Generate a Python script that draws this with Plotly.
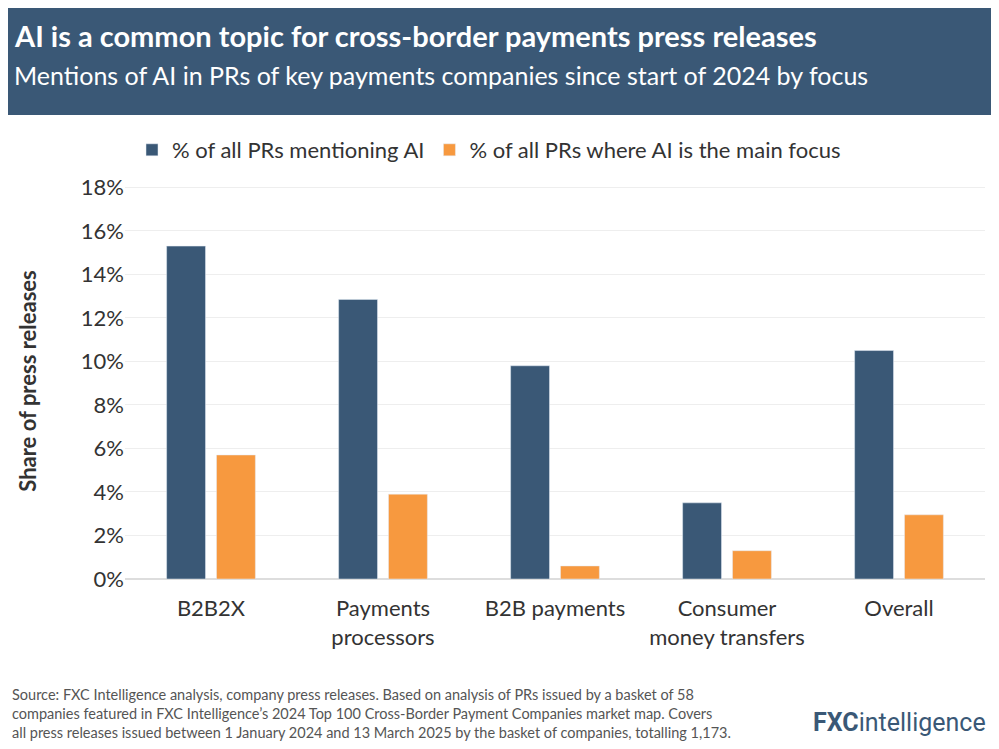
import plotly.graph_objects as go

categories = ['B2B2X', 'Payments<br>processors', 'B2B payments', 'Consumer<br>money transfers', 'Overall']
mentioning_ai = [15.3, 12.85, 9.8, 3.5, 10.5]
main_focus = [5.7, 3.9, 0.6, 1.3, 2.95]
y_ticks = [0, 2, 4, 6, 8, 10, 12, 14, 16, 18]

BLUE = '#3a5876'
ORANGE = '#f7993f'
FONT = 'Lato'

# the page puts the figure 8px in from the top-left corner
OFF = 8
L, R, T, B = 125 - OFF, 22, 175, 749 - 579 + OFF
W = 999 - L - R
H = 749 - T - B


def px(x, y):
    # reference pixel -> paper coordinates
    return (x - OFF - L) / W, (749 - B - (y - OFF)) / H


fig = go.Figure()
fig.add_bar(x=categories, y=mentioning_ai, name='% of all PRs mentioning AI', marker_color=BLUE)
fig.add_bar(x=categories, y=main_focus, name='% of all PRs where AI is the main focus', marker_color=ORANGE)

lx, ly = px(132, 150)
fig.update_layout(
    width=999, height=749,
    paper_bgcolor='white', plot_bgcolor='white',
    font=dict(family=FONT, color='#333333'),
    margin=dict(l=L, r=R, t=T, b=B),
    barmode='group', bargap=0.42, bargroupgap=0.22,
    legend=dict(orientation='h', x=lx, y=ly, xanchor='left', yanchor='middle',
                font=dict(size=22, color='#333333'), itemwidth=30, traceorder='normal'),
)
bx0, by0 = px(-20, 115)
fig.add_shape(type='rect', xref='paper', yref='paper', x0=bx0, x1=2,
              y0=by0, y1=2, fillcolor=BLUE, line_width=0, layer='below')

fig.update_xaxes(tickfont=dict(size=22, color='#333333'), showline=False, ticks='',
                 ticklabelstandoff=14)
fig.update_yaxes(range=[0, 18.2], tickvals=y_ticks, ticktext=[f'{v}%' for v in y_ticks],
                 tickfont=dict(size=22, color='#333333'), showgrid=True, gridcolor='#eeeeee',
                 zeroline=True, zerolinecolor='#dddddd',
                 title=dict(text='<b>Share of press releases</b>', font=dict(size=22, color='#333333'),
                            standoff=38))

tx, ty = px(12, 35)
fig.add_annotation(text='<b>AI is a common topic for cross-border payments press releases</b>',
                   xref='paper', yref='paper', x=tx, y=ty, xanchor='left', yanchor='middle',
                   showarrow=False, font=dict(size=29, color='white', family=FONT))
sx, sy = px(12, 75)
fig.add_annotation(text='Mentions of AI in PRs of key payments companies since start of 2024 by focus',
                   xref='paper', yref='paper', x=sx, y=sy, xanchor='left', yanchor='middle',
                   showarrow=False, font=dict(size=25, color='white', family=FONT))
fx, fy = px(10, 713)
fig.add_annotation(text='Source: FXC Intelligence analysis, company press releases. Based on analysis of PRs issued by a basket of 58<br>'
                        'companies featured in FXC Intelligence\u2019s 2024 Top 100 Cross-Border Payment Companies market map. Covers<br>'
                        'all press releases issued between 1 January 2024 and 13 March 2025 by the basket of companies, totalling 1,173.',
                   xref='paper', yref='paper', x=fx, y=fy, xanchor='left', yanchor='middle',
                   align='left', showarrow=False, font=dict(size=14.5, color='#555555', family=FONT))
gx, gy = px(988, 722)
fig.add_annotation(text='<b>FXC</b>intelligence', xref='paper', yref='paper', x=gx, y=gy,
                   xanchor='right', yanchor='middle', showarrow=False,
                   font=dict(size=25, color=BLUE, family='Roboto'))

fig.write_html('out.html')
